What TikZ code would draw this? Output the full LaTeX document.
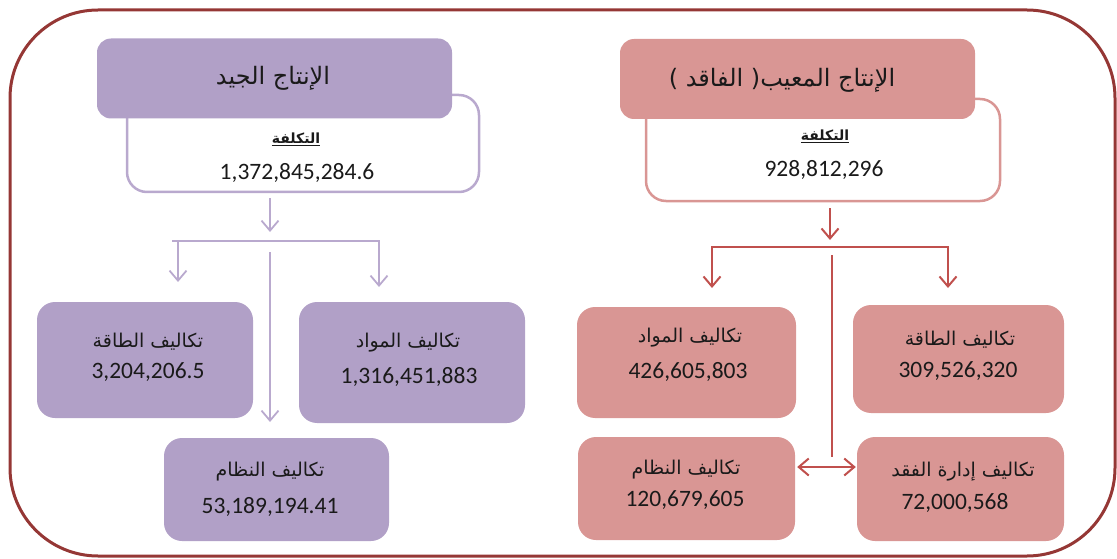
\documentclass[tikz,border=0pt]{standalone}
\usepackage{fontspec}
\usetikzlibrary{arrows.meta}
\TeXXeTstate=1
\newfontfamily\arabicfont[Script=Arabic]{DejaVu Sans}
\newfontfamily\numfont{Carlito}
\newcommand\artext[1]{{\arabicfont\beginR #1\endR}}

\definecolor{frameRed}{HTML}{953735}
\definecolor{lavFill}{HTML}{B1A0C7}
\definecolor{lavLine}{HTML}{B9A9CE}
\definecolor{roseFill}{HTML}{D99694}
\definecolor{roseLine}{HTML}{D99694}
\definecolor{redArrow}{HTML}{C0504D}
\definecolor{txt}{HTML}{1A1A1A}

\tikzset{
  frame/.style={draw=frameRed, line width=3pt, rounded corners=88pt},
  titlebox/.style={rounded corners=14pt, inner sep=0pt, minimum width=355pt, minimum height=80pt},
  costbox/.style={fill=white, line width=2.5pt, rounded corners=20pt, inner sep=0pt},
  itembox/.style={rounded corners=18pt, inner sep=0pt},
  titletext/.style={text=txt, font=\arabicfont\fontsize{24}{28}\selectfont, inner sep=0pt},
  labeltext/.style={text=txt, font=\arabicfont\fontsize{19}{22}\selectfont, inner sep=0pt},
  smalltext/.style={text=txt, font=\arabicfont\bfseries\fontsize{14}{16}\selectfont, inner sep=0pt},
  numtext/.style={text=txt, font=\numfont\fontsize{23.5}{26}\selectfont, inner sep=0pt},
  barb/.style={-{Straight Barb[length=10pt,width=17pt]}},
  pline/.style={draw=lavLine, line width=1.8pt},
  rline/.style={draw=redArrow, line width=2pt},
}

\begin{document}
\begin{tikzpicture}[x=1pt, y=-1pt]
\useasboundingbox (0,0) rectangle (1117,559);

% outer frame
\draw[frame] (10,10) rectangle (1115,556);

% ---------------- good production (left) ----------------
\node[costbox, draw=lavLine, minimum width=352pt, minimum height=97pt] (pCost) at (303,143.5) {};
\node[titlebox, fill=lavFill] (pTitle) at (274.5,78.5) {};
\node[titletext] (pTitleText) at (273,78) {\artext{الإنتاج الجيد}};
\node[smalltext] (pCostLabel) at (296,139) {$\underline{\hbox{\artext{التكلفة}}}$};
\node[numtext] (pCostValue) at (297,173) {1,372,845,284.6};

\node[itembox, fill=lavFill, minimum width=216pt, minimum height=116pt] (pEnergy) at (145,360) {};
\node[labeltext] (pEnergyLabel) at (148,342) {\artext{تكاليف الطاقة}};
\node[numtext] (pEnergyValue) at (148,372) {3,204,206.5};

\node[itembox, fill=lavFill, minimum width=226pt, minimum height=121pt] (pMat) at (412,362.5) {};
\node[labeltext] (pMatLabel) at (408,343) {\artext{تكاليف المواد}};
\node[numtext] (pMatValue) at (409,377) {1,316,451,883};

\node[itembox, fill=lavFill, minimum width=225pt, minimum height=103pt] (pSys) at (276.5,489.5) {};
\node[labeltext] (pSysLabel) at (270,472) {\artext{تكاليف النظام}};
\node[numtext] (pSysValue) at (270,507) {53,189,194.41};

\coordinate (pHub) at (270,232);
\coordinate (pBarL) at (172,241);
\coordinate (pBarR) at (380,241);
\coordinate (pMidTop) at (270,252);
\coordinate (pLeftEnd) at (178,282);
\coordinate (pRightEnd) at (379,287);
\coordinate (pMidEnd) at (270,422);

\draw[pline, barb] ([yshift=-5pt]pHub |- pCost.south) -- (pHub);
\draw[pline] (pBarL) -- (pBarR);
\draw[pline, barb] (pLeftEnd |- pBarL) -- (pLeftEnd);
\draw[pline, barb] (pRightEnd |- pBarR) -- (pRightEnd);
\draw[pline, barb] (pMidTop) -- (pMidEnd);

% ---------------- defective production (right) ----------------
\node[costbox, draw=roseLine, minimum width=354pt, minimum height=102pt] (rCost) at (823,150) {};
\node[titlebox, fill=roseFill] (rTitle) at (797.5,79) {};
\node[titletext] (rTitleText) at (782,80) {\artext{الإنتاج المعيب( الفاقد )}};
\node[smalltext] (rCostLabel) at (825,136) {$\underline{\hbox{\artext{التكلفة}}}$};
\node[numtext] (rCostValue) at (824,170) {928,812,296};

\node[itembox, fill=roseFill, minimum width=219pt, minimum height=111pt] (rMat) at (686.5,362.5) {};
\node[labeltext] (rMatLabel) at (690,338) {\artext{تكاليف المواد}};
\node[numtext] (rMatValue) at (688,372) {426,605,803};

\node[itembox, fill=roseFill, minimum width=211pt, minimum height=108pt] (rEnergy) at (958.5,359) {};
\node[labeltext] (rEnergyLabel) at (960,340) {\artext{تكاليف الطاقة}};
\node[numtext] (rEnergyValue) at (958,371) {309,526,320};

\node[itembox, fill=roseFill, minimum width=217pt, minimum height=103pt] (rSys) at (686.5,488.5) {};
\node[labeltext] (rSysLabel) at (686,470) {\artext{تكاليف النظام}};
\node[numtext] (rSysValue) at (685,500) {120,679,605};

\node[itembox, fill=roseFill, minimum width=207pt, minimum height=104pt] (rMgmt) at (960.5,489) {};
\node[labeltext] (rMgmtLabel) at (963,472) {\artext{تكاليف إدارة الفقد}};
\node[numtext] (rMgmtValue) at (955,503) {72,000,568};

\coordinate (rHub) at (830,240);
\coordinate (rBarL) at (711,247);
\coordinate (rBarR) at (949,247);
\coordinate (rMidTop) at (832,255);
\coordinate (rLeftEnd) at (712,288);
\coordinate (rRightEnd) at (948,288);
\coordinate (rJoin) at (832,467);

\draw[rline, barb] ([yshift=-6pt]rHub |- rCost.south) -- (rHub);
\draw[rline] (rBarL) -- (rBarR);
\draw[rline, barb] (rLeftEnd |- rBarL) -- (rLeftEnd);
\draw[rline, barb] (rRightEnd |- rBarR) -- (rRightEnd);
\draw[rline] (rMidTop) -- ([yshift=10pt]rJoin);
\draw[rline, {Straight Barb[length=10pt,width=17pt]}-{Straight Barb[length=10pt,width=17pt]}]
  ([xshift=2pt]rSys.east |- rJoin) -- ([xshift=-1pt]rMgmt.west |- rJoin);
\end{tikzpicture}
\end{document}
